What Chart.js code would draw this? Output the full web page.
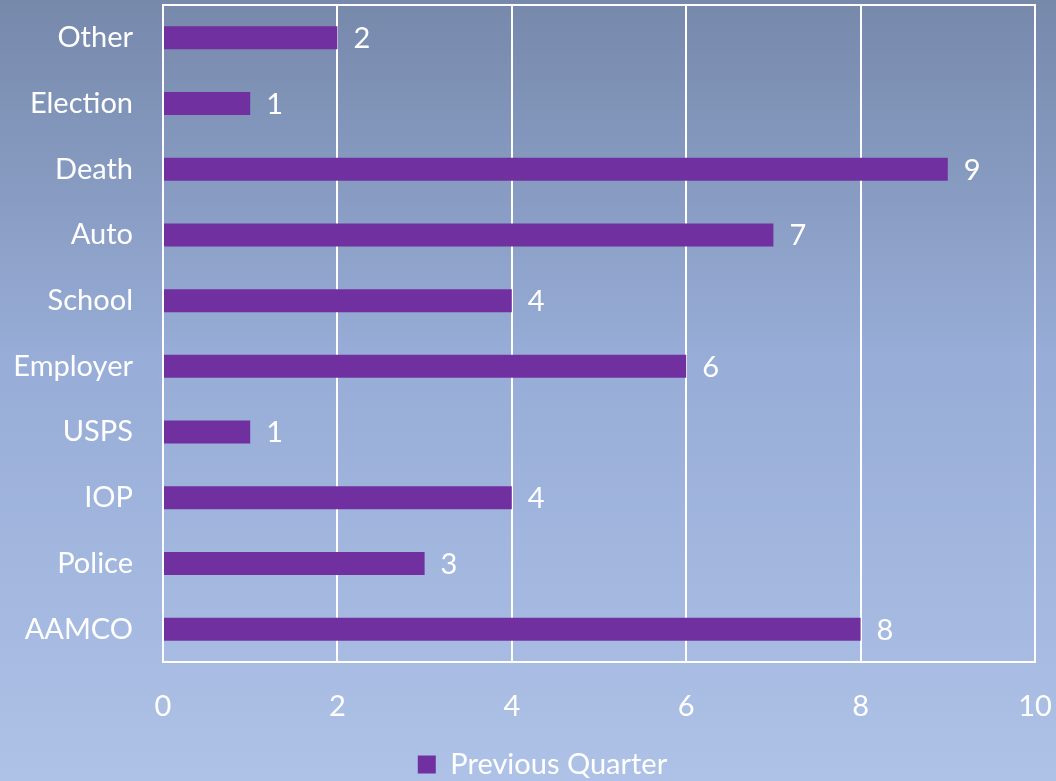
<!DOCTYPE html>
<html><head><meta charset="utf-8">
<script src="https://cdn.jsdelivr.net/npm/chart.js@4/dist/chart.umd.min.js"></script>
<style>html,body{margin:0;padding:0;background:#a9bde2}#wrap{width:1056px;height:781px;position:relative}</style>
</head><body><div id="wrap"><canvas id="c" width="1056" height="781"></canvas></div>
<script>
const categories = ["Other","Election","Death","Auto","School","Employer","USPS","IOP","Police","AAMCO"];
const previousQuarter = [2,1,9,7,4,6,1,4,3,8];
const xTicks = [0,2,4,6,8,10];
const seriesName = "Previous Quarter";

const FONT = "Lato, 'Open Sans', sans-serif";
const FS = 29;

const bgPlugin = {
  id:'bg',
  afterLayout(chart){
    const L = chart.legend;
    if (L) { L.left += 25; L.right += 25; L.top += 8; L.bottom += 8; }
  },
  beforeDraw(chart){
    const ctx = chart.ctx;
    const g = ctx.createLinearGradient(0,0,0,chart.height);
    g.addColorStop(0,'#7689ab');
    g.addColorStop(0.45,'#97acd6');
    g.addColorStop(1,'#aec2e7');
    ctx.save(); ctx.fillStyle=g; ctx.fillRect(0,0,chart.width,chart.height); ctx.restore();
  },
  afterDatasetsDraw(chart){
    const ctx = chart.ctx, a = chart.chartArea;
    ctx.save(); ctx.strokeStyle='#ffffff'; ctx.lineWidth=2;
    ctx.strokeRect(a.left, a.top, a.right-a.left, a.bottom-a.top);
    ctx.restore();
    const meta = chart.getDatasetMeta(0);
    ctx.save(); ctx.fillStyle='#ffffff'; ctx.font=FS+'px '+FONT; ctx.textBaseline='middle'; ctx.textAlign='left';
    meta.data.forEach((bar,i)=>{ ctx.fillText(String(chart.data.datasets[0].data[i]), bar.x+16, bar.y+1); });
    ctx.restore();
  }
};

function zeroPad(s){ s.paddingTop=0; s.paddingBottom=0; s.paddingLeft=0; s.paddingRight=0; }

new Chart(document.getElementById('c'),{
  type:'bar',
  data:{labels:categories, datasets:[{label:seriesName, data:previousQuarter, backgroundColor:'#7030a0', borderWidth:0, barPercentage:0.35, categoryPercentage:1}]},
  options:{
    indexAxis:'y', responsive:false, animation:false,
    layout:{padding:{top:5,right:21,left:0,bottom:0}},
    plugins:{
      legend:{position:'bottom', labels:{color:'#ffffff', font:{family:FONT,size:FS}, boxWidth:18, boxHeight:18, padding:0}},
      tooltip:{enabled:false}
    },
    scales:{
      x:{min:0,max:10,
        afterBuildTicks(s){ s.ticks = xTicks.map(v=>({value:v})); },
        grid:{color:'#ffffff', lineWidth:2, drawTicks:false},
        border:{display:false},
        ticks:{color:'#ffffff', font:{family:FONT,size:FS}, padding:27},
        afterFit(s){ s.height = 80; zeroPad(s); }
      },
      y:{
        grid:{display:false, drawTicks:false}, border:{display:false},
        ticks:{color:'#ffffff', font:{family:FONT,size:FS}, padding:30},
        afterFit(s){ s.width = 163; zeroPad(s); }
      }
    }
  },
  plugins:[bgPlugin]
});
</script></body></html>
